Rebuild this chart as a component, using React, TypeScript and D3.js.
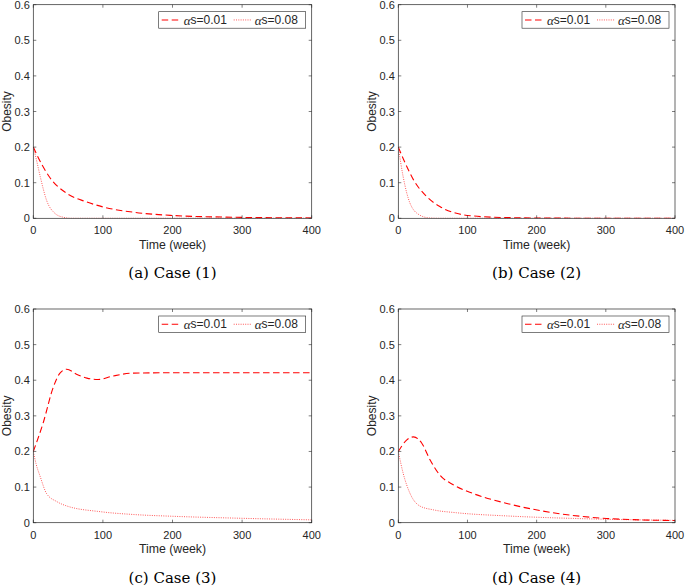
import React from "react";
import * as d3 from "d3";

// Time (week) sample points and obesity values
const case1Low_t = [0, 12, 24, 48, 75, 100, 144, 200, 287, 400];
const case1Low_v = [0.2, 0.152, 0.114, 0.07, 0.047, 0.032, 0.017, 0.008, 0.003, 0.001];
const case1High_t = [0, 5, 10, 19, 31, 43, 55, 400];
const case1High_v = [0.2, 0.16, 0.117, 0.051, 0.014, 0.003, 0.0, 0.0];

const case2Low_t = [0, 10, 22, 41, 60, 84, 108, 157, 250, 400];
const case2Low_v = [0.2, 0.155, 0.108, 0.061, 0.033, 0.014, 0.0066, 0.002, 0.0003, 0.0];
const case2High_t = [0, 7, 17, 31, 45, 60, 400];
const case2High_v = [0.2, 0.117, 0.042, 0.009, 0.001, 0.0, 0.0];

const case3Low_t = [0, 14, 29, 38, 48, 62, 77, 93, 115, 144, 200, 300, 400];
const case3Low_v = [0.2, 0.279, 0.382, 0.419, 0.431, 0.417, 0.406, 0.402, 0.412, 0.42, 0.421, 0.421, 0.421];
const case3High_t = [0, 4, 10, 19, 34, 48, 96, 144, 201, 287, 400];
const case3High_v = [0.2, 0.165, 0.129, 0.082, 0.059, 0.047, 0.031, 0.023, 0.018, 0.013, 0.008];

const case4Low_t = [0, 12, 22, 34, 46, 60, 80, 108, 157, 205, 301, 400];
const case4Low_v = [0.2, 0.232, 0.241, 0.223, 0.176, 0.134, 0.106, 0.082, 0.054, 0.034, 0.012, 0.006];
const case4High_t = [0, 7, 17, 31, 51, 84, 157, 253, 400];
const case4High_v = [0.2, 0.139, 0.082, 0.047, 0.036, 0.028, 0.019, 0.012, 0.0066];

const xTicks = [0, 100, 200, 300, 400];
const yTicks = [0, 0.1, 0.2, 0.3, 0.4, 0.5, 0.6];
const legendLabels = ["s=0.01", "s=0.08"];
const captions = ["(a) Case (1)", "(b) Case (2)", "(c) Case (3)", "(d) Case (4)"];
const xLabel = "Time (week)";
const yLabel = "Obesity";

const panels = [
  { low: [case1Low_t, case1Low_v], high: [case1High_t, case1High_v], x0: 33.3, x1: 311.7, y0: 4.7, y1: 218.3 },
  { low: [case2Low_t, case2Low_v], high: [case2High_t, case2High_v], x0: 398.3, x1: 675, y0: 4.7, y1: 218.3 },
  { low: [case3Low_t, case3Low_v], high: [case3High_t, case3High_v], x0: 33.3, x1: 311.7, y0: 309, y1: 522.7 },
  { low: [case4Low_t, case4Low_v], high: [case4High_t, case4High_v], x0: 398.3, x1: 675, y0: 309, y1: 522.7 },
];

const AX = "#262626";
const SANS = "'Liberation Sans', Arial, Helvetica, sans-serif";
const SERIF = "'DejaVu Serif', 'Liberation Serif', serif";
const MATH = "'Liberation Serif', 'DejaVu Serif', serif";

function Panel({ p, idx }: { p: any; idx: number }) {
  const x = d3.scaleLinear().domain([0, 400]).range([p.x0, p.x1]);
  const y = d3.scaleLinear().domain([0, 0.6]).range([p.y1, p.y0]);
  const line = d3
    .line<[number, number]>()
    .x((d) => x(d[0]))
    .y((d) => y(d[1]))
    .curve(d3.curveMonotoneX);
  const zip = (t: number[], v: number[]) => t.map((tt, i) => [tt, v[i]] as [number, number]);
  const lowPath = line(zip(p.low[0], p.low[1])) || "";
  const highPath = line(zip(p.high[0], p.high[1])) || "";
  const tl = 3;
  const lgR = p.x1 - 6;
  const lgL = lgR - 147;
  const lgT = p.y0 + 7;
  const lgB = lgT + 16.5;
  const lgM = (lgT + lgB) / 2;
  const cx = (p.x0 + p.x1) / 2;
  return (
    <g>
      <rect x={p.x0} y={p.y0} width={p.x1 - p.x0} height={p.y1 - p.y0} fill="#fff" />
      <clipPath id={`clip${idx}`}>
        <rect x={p.x0} y={p.y0 - 1} width={p.x1 - p.x0} height={p.y1 - p.y0 + 1} />
      </clipPath>
      <g clipPath={`url(#clip${idx})`}>
        <path d={highPath} fill="none" stroke="#ff3030" strokeWidth={1} strokeDasharray="1,1.3" opacity={0.8} />
        <path d={lowPath} fill="none" stroke="#ff0000" strokeWidth={1.1} strokeDasharray="6.5,3.5" />
      </g>
      {xTicks.map((t) => (
        <g key={"x" + t}>
          <line x1={x(t)} x2={x(t)} y1={p.y1} y2={p.y1 - tl} stroke={AX} strokeWidth={0.6} />
          <line x1={x(t)} x2={x(t)} y1={p.y0} y2={p.y0 + tl} stroke={AX} strokeWidth={0.6} />
          <text x={x(t)} y={p.y1 + 12} fontSize={11} fontFamily={SANS} fill={AX} textAnchor="middle" dominantBaseline="central">
            {t}
          </text>
        </g>
      ))}
      {yTicks.map((t) => (
        <g key={"y" + t}>
          <line x1={p.x0} x2={p.x0 + tl} y1={y(t)} y2={y(t)} stroke={AX} strokeWidth={0.6} />
          <line x1={p.x1} x2={p.x1 - tl} y1={y(t)} y2={y(t)} stroke={AX} strokeWidth={0.6} />
          <text x={p.x0 - 3.5} y={y(t)} fontSize={11} fontFamily={SANS} fill={AX} textAnchor="end" dominantBaseline="central">
            {t === 0 ? "0" : t.toFixed(1)}
          </text>
        </g>
      ))}
      <rect x={p.x0} y={p.y0} width={p.x1 - p.x0} height={p.y1 - p.y0} fill="none" stroke={AX} strokeWidth={0.7} />
      <text x={cx} y={p.y1 + 26.5} fontSize={12.3} fontFamily={SANS} fill={AX} textAnchor="middle" dominantBaseline="central">
        {xLabel}
      </text>
      <text
        transform={`translate(${p.x0 - 26.3},${(p.y0 + p.y1) / 2}) rotate(-90)`}
        fontSize={12}
        fontFamily={SANS}
        fill={AX}
        textAnchor="middle"
        dominantBaseline="central"
      >
        {yLabel}
      </text>
      <text x={cx} y={p.y1 + 55} fontSize={15} fontFamily={SERIF} fill="#000" textAnchor="middle" dominantBaseline="central">
        {captions[idx]}
      </text>
      {/* legend */}
      <rect x={lgL} y={lgT} width={lgR - lgL} height={lgB - lgT} fill="#fff" stroke={AX} strokeWidth={0.6} />
      <line x1={lgL + 3} x2={lgL + 21} y1={lgM} y2={lgM} stroke="#ff0000" strokeWidth={1.1} strokeDasharray="6.5,3.5" />
      <text x={lgL + 25} y={lgM} fontSize={12} fontFamily={SANS} fill={AX} dominantBaseline="central">
        <tspan fontFamily={MATH} fontStyle="italic" fontSize={13}>α</tspan>
        {legendLabels[0]}
      </text>
      <line x1={lgL + 75} x2={lgL + 93} y1={lgM} y2={lgM} stroke="#ff3030" strokeWidth={1} strokeDasharray="1,1.3" opacity={0.8} />
      <text x={lgL + 96} y={lgM} fontSize={12} fontFamily={SANS} fill={AX} dominantBaseline="central">
        <tspan fontFamily={MATH} fontStyle="italic" fontSize={13}>α</tspan>
        {legendLabels[1]}
      </text>
    </g>
  );
}

export default function App() {
  return (
    <svg
      width={685}
      height={588}
      viewBox="0 0 685 588"
      style={{ position: "absolute", left: 0, top: 0, background: "#fff" }}
    >
      <rect width={685} height={588} fill="#fff" />
      {panels.map((p, i) => (
        <Panel key={i} p={p} idx={i} />
      ))}
    </svg>
  );
}
